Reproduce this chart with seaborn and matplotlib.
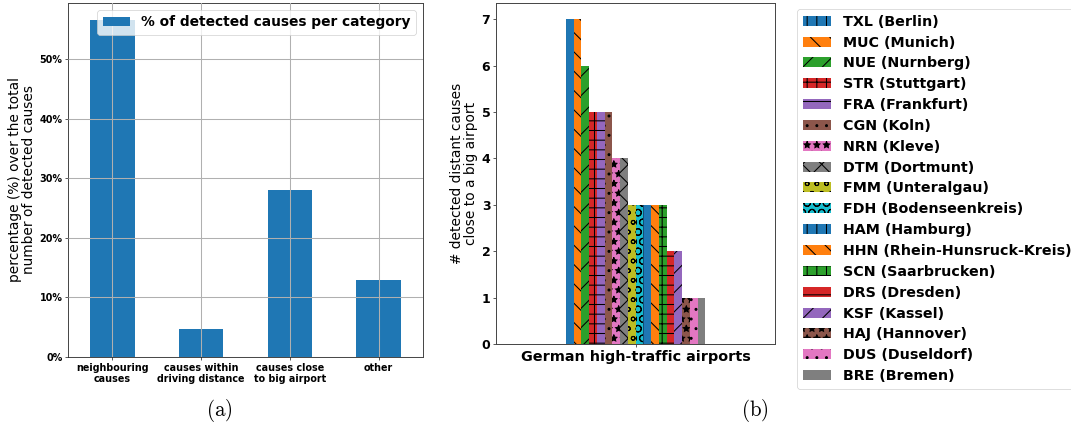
import matplotlib
matplotlib.use("Agg")
import matplotlib.pyplot as plt
from matplotlib.ticker import PercentFormatter
import pandas as pd
import seaborn as sns

# --- data -------------------------------------------------------------
categories = ["neighbouring\ncauses", "causes within\ndriving distance",
              "causes close\nto big airport", "other"]
category_pct = [56.6, 4.7, 28.1, 13.0]

airports = ["TXL (Berlin)", "MUC (Munich)", "NUE (Nurnberg)", "STR (Stuttgart)",
            "FRA (Frankfurt)", "CGN (Koln)", "NRN (Kleve)", "DTM (Dortmunt)",
            "FMM (Unteralgau)", "FDH (Bodenseenkreis)", "HAM (Hamburg)",
            "HHN (Rhein-Hunsruck-Kreis)", "SCN (Saarbrucken)", "DRS (Dresden)",
            "KSF (Kassel)", "HAJ (Hannover)", "DUS (Duseldorf)", "BRE (Bremen)"]
distant_causes = [7, 7, 6, 5, 5, 5, 4, 4, 3, 3, 3, 3, 3, 2, 2, 1, 1, 1]
group_label = "German high-traffic airports"

hatches = ["|", "\\", "/", "+", "-", ".", "*", "x", "o", "O",
           "|", "\\", "+", "-", "/", "*", ".", ""]
palette = sns.color_palette("tab10", 10)
airport_colors = [palette[i % 10] for i in range(len(airports))]

# --- figure -------------------------------------------------------------
DPI = 58
W, H = 1071, 423
fig = plt.figure(figsize=(W / DPI, H / DPI), dpi=DPI)
plt.rcParams["hatch.linewidth"] = 1.3

ax1 = fig.add_axes([68 / W, 1 - 357 / H, 355 / W, 354 / H])
ax2 = fig.add_axes([496 / W, 1 - 344 / H, 279 / W, 341 / H])

# (a) share of detected causes per category
sns.barplot(x=categories, y=category_pct, color="#1f77b4", saturation=1,
            width=0.5, ax=ax1)
ax1.set_xlim(-0.5, 3.5)
ax1.set_axisbelow(False)
ax1.grid(True, color="#b0b0b0", linewidth=1.3)
ax1.yaxis.set_major_formatter(PercentFormatter(xmax=100, decimals=0))
ax1.set_yticks([0, 10, 20, 30, 40, 50])
ax1.tick_params(labelsize=12)
for lab in ax1.get_xticklabels() + ax1.get_yticklabels():
    lab.set_fontweight("bold")
ax1.set_ylabel("percentage (%) over the total\nnumber of detected causes",
               fontsize=17, linespacing=1.0)
ax1.set_xlabel("")
ax1.legend(handles=[ax1.patches[0]], labels=["% of detected causes per category"],
           loc="upper right", prop={"weight": "bold", "size": 17})

# (b) distant causes close to a big airport
df = pd.DataFrame({"group": [group_label] * len(airports),
                   "airport": airports, "count": distant_causes})
sns.barplot(data=df, x="group", y="count", hue="airport", hue_order=airports,
            palette=airport_colors, saturation=1, width=0.5, legend=False, ax=ax2)
ax2.set_xlim(-0.5, 0.5)
for cont, hatch in zip(ax2.containers, hatches):
    for p in cont:
        p.set_hatch(hatch)
        p.set_edgecolor("black")
        p.set_linewidth(0)
ax2.set_xlabel("")
ax2.set_ylabel("# detected distant causes\nclose to a big airport",
               fontsize=17, linespacing=1.0)
ax2.tick_params(axis="y", labelsize=15.5)
ax2.tick_params(axis="x", labelsize=17.8)
for lab in ax2.get_xticklabels() + ax2.get_yticklabels():
    lab.set_fontweight("bold")
ax2.set_yticks(range(0, 8))

handles = [cont[0] for cont in ax2.containers]
fig.legend(handles, airports, loc="upper left",
           bbox_to_anchor=(797 / W, 1 - 9 / H), borderaxespad=0,
           labelspacing=0.48, prop={"weight": "bold", "size": 17.7})

for ax in (ax1, ax2):
    for s in ax.spines.values():
        s.set_linewidth(1.2)
        s.set_color("#444444")

plt.rcParams["mathtext.fontset"] = "cm"
fig.text(219 / W, 1 - 410 / H, r"$(\mathrm{a})$", ha="center", va="center", fontsize=26)
fig.text(755 / W, 1 - 410 / H, r"$(\mathrm{b})$", ha="center", va="center", fontsize=26)

fig.savefig("out.png", dpi=DPI)
